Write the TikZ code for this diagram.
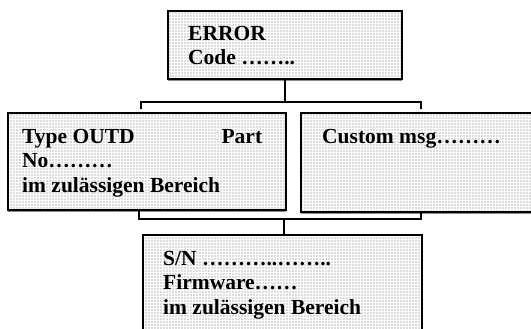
\documentclass[tikz,border=0pt]{standalone}
\usepackage{fontspec}
\setmainfont{Liberation Serif}
\usetikzlibrary{shadows,patterns}
\definecolor{boxfill}{HTML}{DCDCDC}
\definecolor{boxshade}{HTML}{8C8C8C}
\tikzset{
  chartbox/.style={draw=black,line width=2pt,inner sep=0pt,
                   anchor=north west,
                   drop shadow={shadow xshift=0pt,shadow yshift=-2pt,fill=boxshade,opacity=1},
                   preaction={fill=boxfill},
                   pattern=grid,pattern color=white},
  boxtext/.style={anchor=north west,align=left,inner sep=0pt,
                  font=\fontsize{21.5}{24.5}\selectfont\bfseries},
  link/.style={line width=1.7pt}
}

\begin{document}
\begin{tikzpicture}[x=1pt,y=-1pt]
  \useasboundingbox (0,0) rectangle (531,329);
  \fill[white] (0,0) rectangle (531,329);
  \clip (0,0) rectangle (531,329);

  % boxes of the chart
  \node[chartbox,minimum width=234pt,minimum height=68pt] (errbox) at (167,10) {};
  \node[chartbox,minimum width=278pt,minimum height=97pt] (typebox) at (7,112) {};
  \node[chartbox,minimum width=245pt,minimum height=99pt] (msgbox) at (300,112) {};
  \node[chartbox,minimum width=279pt,minimum height=120pt] (snbox) at (142,234) {};

  % texts
  \node[boxtext] (errtext) at ([xshift=21pt,yshift=-16pt]errbox.north west) {ERROR\\Code ……..};
  \node[boxtext] (typetext) at ([xshift=15pt,yshift=-17pt]typebox.north west)
    {\makebox[240pt][l]{Type OUTD\hfill Part}\\No………\\im zulässigen Bereich};
  \node[boxtext] (msgtext) at ([xshift=22pt,yshift=-17pt]msgbox.north west) {Custom msg………};
  \node[boxtext] (sntext) at ([xshift=21pt,yshift=-17pt]snbox.north west)
    {S/N ………..……..\\Firmware……\\im zulässigen Bereich};

  % upper bracket
  \coordinate (topjoin) at ([yshift=-22pt]errbox.south);
  \coordinate (topleft) at (141,109);
  \coordinate (topright) at (421,109);
  \draw[link] (errbox.south) -- (topjoin);
  \draw[link] (topleft) -- (topleft |- topjoin) -- (topright |- topjoin) -- (topright);

  % lower bracket
  \coordinate (botjoin) at (284,219);
  \coordinate (botleft) at (139,209);
  \coordinate (botright) at (421,211);
  \draw[link] (botleft) -- (botleft |- botjoin) -- (botright |- botjoin) -- (botright);
  \draw[link] (botjoin) -- (botjoin |- snbox.north);
\end{tikzpicture}
\end{document}
